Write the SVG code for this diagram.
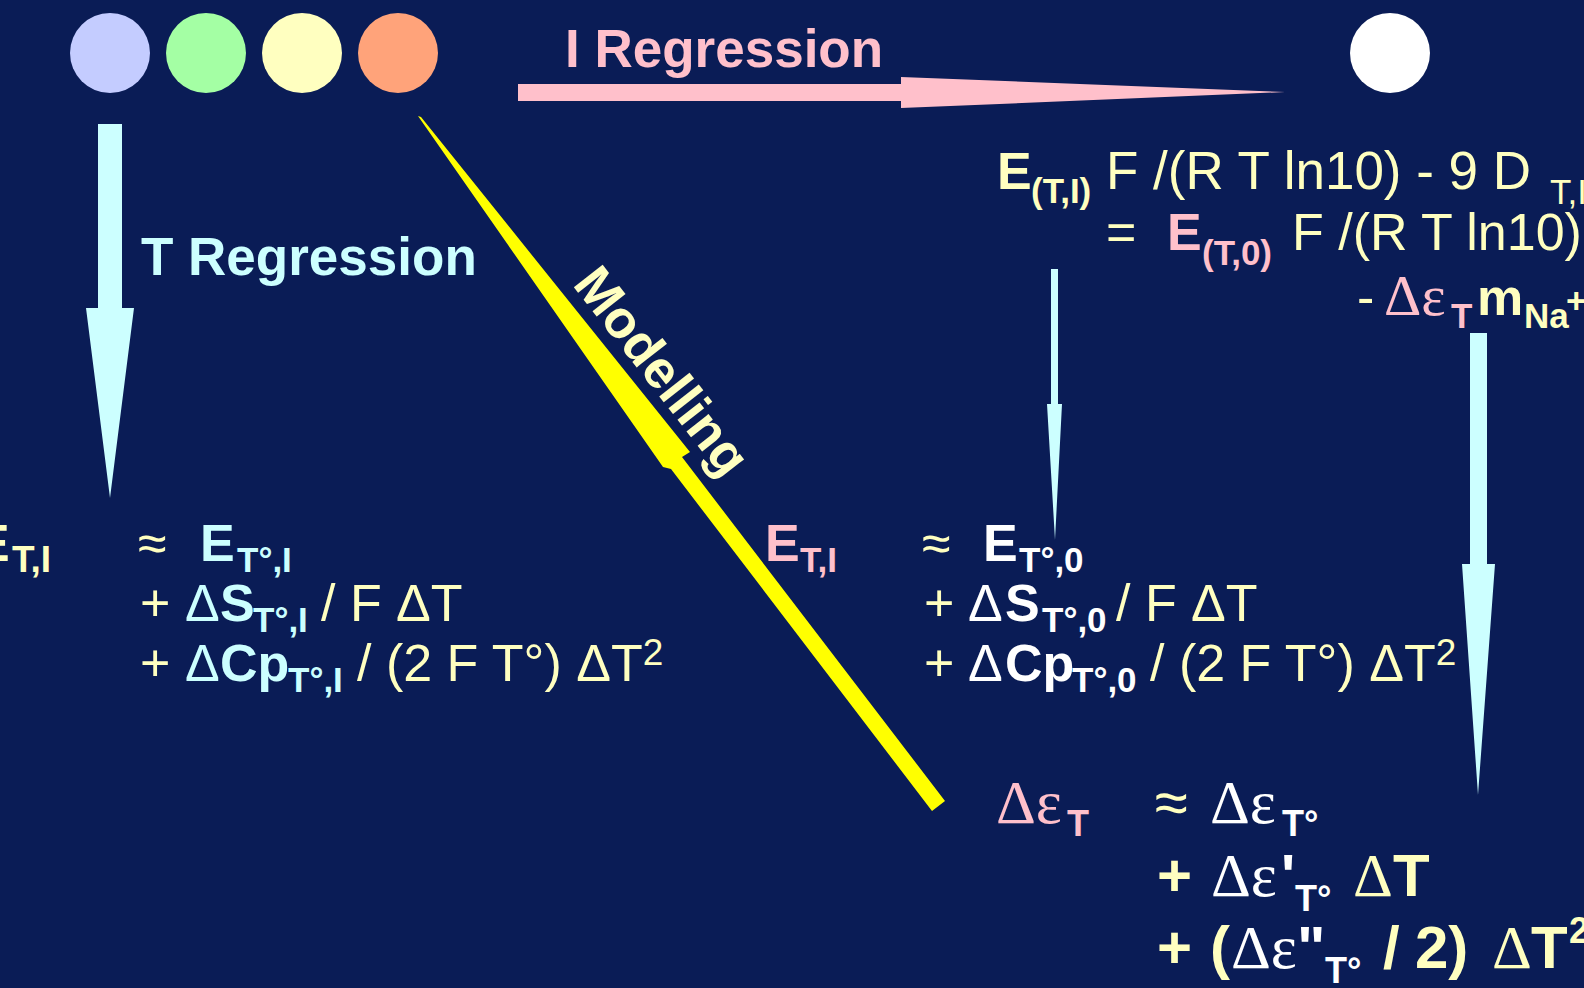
<svg xmlns="http://www.w3.org/2000/svg" width="1584" height="988" viewBox="0 0 1584 988">
<style>
text{font-family:"Liberation Sans",Arial,sans-serif;font-size:52px}
.b{font-weight:700}
.y{fill:#FFFFC0}.c{fill:#CCFFFF}.p{fill:#FFC0CB}.w{fill:#FFFFFF}
.s{font-size:35px}
.e{font-family:"Liberation Serif","Times New Roman",serif}
.L{font-size:60px}
.G{font-size:62px}
.S{font-size:36px}
.sup{font-size:37px}
.arrC{fill:#CCFFFF}
</style>
<rect x="0" y="0" width="1584" height="988" fill="#0A1C56"/>

<g id="node-lavender"><circle cx="110" cy="53" r="40" fill="#C4CCFF"/></g>
<g id="node-green"><circle cx="206" cy="53" r="40" fill="#A4FFA4"/></g>
<g id="node-yellow"><circle cx="302" cy="53" r="40" fill="#FFFFC0"/></g>
<g id="node-orange"><circle cx="398" cy="53" r="40" fill="#FFA37A"/></g>
<g id="node-white"><circle cx="1390" cy="53" r="40" fill="#FFFFFF"/></g>

<g id="connectors">
  <polygon class="arrC" points="98,124 122,124 122,308 134,308 110,498 86,308 98,308"/>
  <polygon fill="#FFC0CB" points="518,84 901,84 901,77 1285,92 901,108 901,101 518,101"/>
  <polygon class="arrC" points="1051,269 1058,269 1058,404 1062,404 1055,540 1047,404 1051,404"/>
  <polygon class="arrC" points="1470,333 1487,333 1487,564 1495,564 1478,795 1462,564 1470,564"/>
  <polygon fill="#FFFF00" points="418,116 421,117 690,452 682,457 945,801 932,811 671,469 663,467"/>
  <text class="b" x="565" y="67" style="fill:#FFC0CB;font-size:53px">I Regression</text>
  <text class="b c" x="141" y="275" style="font-size:53px">T Regression</text>
  <text class="b y" style="font-size:53px" text-anchor="middle" transform="translate(648,382) rotate(52)">Modelling</text>
</g>

<g id="node-E-TI-left">
  <text><tspan class="b y" x="-25" y="561">E</tspan><tspan class="b y" style="font-size:37px" x="12" y="572">T,I</tspan></text>
</g>

<g id="node-T-regression-formula">
  <text><tspan class="y" x="138" y="561">≈</tspan><tspan class="b c" x="200" y="561">E</tspan><tspan class="b c s" x="237" y="572">T°,I</tspan></text>
  <text><tspan class="y" x="140" y="621">+</tspan><tspan class="c" x="185" y="621">Δ</tspan><tspan class="b c" x="220" y="621">S</tspan><tspan class="b c s" x="253" y="632">T°,I</tspan><tspan class="y" x="321" y="621">/ F ΔT</tspan></text>
  <text><tspan class="y" x="140" y="681">+</tspan><tspan class="c" x="185" y="681">Δ</tspan><tspan class="b c" x="220" y="681">Cp</tspan><tspan class="b c s" x="288" y="692">T°,I</tspan><tspan class="y" x="357" y="681">/ (2 F T°) ΔT</tspan><tspan class="y sup" dy="-16">2</tspan></text>
</g>

<g id="node-E-TI-mid">
  <text><tspan class="b p" x="765" y="561">E</tspan><tspan class="b p s" x="800" y="572">T,I</tspan></text>
</g>

<g id="node-I-zero-formula">
  <text><tspan class="y" x="922" y="561">≈</tspan><tspan class="b w" x="983" y="561">E</tspan><tspan class="b w s" x="1019" y="572">T°,0</tspan></text>
  <text><tspan class="y" x="924" y="621">+</tspan><tspan class="w" x="968" y="621">Δ</tspan><tspan class="b w" x="1005" y="621">S</tspan><tspan class="b w s" x="1042" y="632">T°,0</tspan><tspan class="y" x="1116" y="621">/ F ΔT</tspan></text>
  <text><tspan class="y" x="924" y="681">+</tspan><tspan class="w" x="968" y="681">Δ</tspan><tspan class="b w" x="1005" y="681">Cp</tspan><tspan class="b w s" x="1072" y="692">T°,0</tspan><tspan class="y" x="1150" y="681">/ (2 F T°) ΔT</tspan><tspan class="y sup" dy="-16">2</tspan></text>
</g>

<g id="node-I-formula">
  <text><tspan class="b y" x="997" y="189">E</tspan><tspan class="b y s" x="1031" y="203">(T,I)</tspan><tspan class="y" style="font-size:53px" x="1106" y="189">F /(R T ln10) - 9 D</tspan><tspan class="y s" x="1550" y="204">T,I</tspan></text>
  <text><tspan class="y" x="1106" y="250">=</tspan><tspan class="b p" x="1167" y="250">E</tspan><tspan class="b p s" x="1202" y="265">(T,0)</tspan><tspan class="y" x="1292" y="250">F /(R T ln10)</tspan></text>
  <text><tspan class="y" x="1357" y="315">-</tspan><tspan class="p e" style="font-size:58px" x="1384" y="315">Δε</tspan><tspan class="b p s" x="1451" y="328">T</tspan><tspan class="b y" x="1477" y="315">m</tspan><tspan class="b y s" x="1524" y="328">Na</tspan><tspan class="b y s" x="1566" y="313">+</tspan></text>
</g>

<g id="node-eps-formula">
  <text><tspan class="p e G" x="996" y="823">Δε</tspan><tspan class="b p S" x="1067" y="836">T</tspan></text>
  <text class="L"><tspan class="y" x="1155" y="823">≈</tspan><tspan class="w e G" x="1210" y="823">Δε</tspan><tspan class="b w S" x="1282" y="836">T°</tspan></text>
  <text class="L"><tspan class="b y" x="1157" y="896">+</tspan><tspan class="w e G" x="1211" y="896">Δε</tspan><tspan class="b w" x="1281" y="896">'</tspan><tspan class="b w S" x="1295" y="911">T°</tspan><tspan class="y e G" x="1353" y="896">Δ</tspan><tspan class="b y" x="1393" y="896">T</tspan></text>
  <text class="L"><tspan class="b y" x="1157" y="968">+</tspan><tspan class="b y" x="1210" y="968">(</tspan><tspan class="w e G" x="1231" y="968">Δε</tspan><tspan class="b w" x="1297" y="968">"</tspan><tspan class="b w S" x="1325" y="983">T°</tspan><tspan class="b y" x="1383" y="968">/</tspan><tspan class="b y" x="1415" y="968">2)</tspan><tspan class="y e G" x="1492" y="968">Δ</tspan><tspan class="b y" x="1531" y="968">T</tspan><tspan class="b y S" x="1569" y="943">2</tspan></text>
</g>
</svg>
